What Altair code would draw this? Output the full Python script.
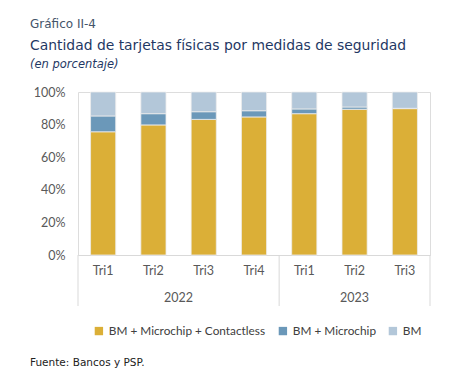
import altair as alt
import pandas as pd

periods = ["Tri1", "Tri2", "Tri3", "Tri4", "Tri1", "Tri2", "Tri3"]
years = ["2022", "2022", "2022", "2022", "2023", "2023", "2023"]
contactless = [75.6, 79.8, 83.2, 84.7, 86.7, 89.4, 89.8]
microchip = [9.7, 6.9, 4.7, 3.8, 2.9, 1.4, 0.2]
bm_only = [14.7, 13.3, 12.1, 11.5, 10.4, 9.2, 10.0]

series_names = ["BM + Microchip + Contactless", "BM + Microchip", "BM"]
series_colors = ["#DBAF37", "#6B98B9", "#B3C7D9"]

keys = [f"{y}-{p}" for y, p in zip(years, periods)]
rows = []
for i, k in enumerate(keys):
    for j, (name, vals) in enumerate(zip(series_names, [contactless, microchip, bm_only])):
        rows.append({"key": k, "serie": name, "valor": vals[i], "ord": j})
df = pd.DataFrame(rows)

W, H = 352, 163

xscale = alt.Scale(domain=keys, paddingInner=0, paddingOuter=0)
xenc = alt.X("key:N", scale=xscale, sort=keys,
             axis=alt.Axis(title=None, labelExpr="split(datum.label, '-')[1]", labelAngle=0,
                           ticks=False, domainColor="#d9d9d9", labelFont="Lato",
                           labelFontSize=12.5, labelColor="#595959", labelPadding=9))

bars = alt.Chart(df).mark_bar(width=alt.RelativeBandSize(0.5), stroke="#ececec", strokeWidth=0.8).encode(
    x=xenc,
    y=alt.Y("valor:Q", stack="zero", scale=alt.Scale(domain=[0, 100], nice=False),
            axis=alt.Axis(title=None, values=[0, 20, 40, 60, 80, 100], labelExpr="datum.value + '%'",
                          grid=False, domain=False, ticks=False, labelFont="Lato",
                          labelFontSize=12.5, labelColor="#595959", labelPadding=13)),
    color=alt.Color("serie:N", scale=alt.Scale(domain=series_names, range=series_colors),
                    legend=alt.Legend(title=None, orient="none", legendX=15, legendY=233,
                                      direction="horizontal", symbolType="square", symbolSize=70,
                                      symbolStrokeWidth=0, labelFont="Lato", labelFontSize=11.8,
                                      labelColor="#404040", columnPadding=11, labelOffset=4,
                                      labelLimit=0)),
    order=alt.Order("ord:Q"),
)

first_keys = [keys[years.index(y)] for y in sorted(set(years))]
sep_df = pd.DataFrame({"key": first_keys})
seps = alt.Chart(sep_df).mark_rule(color="#d9d9d9").encode(
    x=alt.X("key:N", scale=xscale, sort=keys, bandPosition=0),
    y=alt.value(H), y2=alt.value(H + 51))
sep_end = alt.Chart(sep_df.head(1)).mark_rule(color="#d9d9d9").encode(
    x=alt.value(W), y=alt.value(H), y2=alt.value(H + 51))

yl1 = alt.Chart(pd.DataFrame({"key": ["2022-Tri2"], "t": ["2022"]})).mark_text(
    font="Lato", fontSize=12.5, color="#595959", baseline="middle").encode(
    x=alt.X("key:N", scale=xscale, sort=keys, bandPosition=1), y=alt.value(H + 43), text="t:N")
yl2 = alt.Chart(pd.DataFrame({"key": ["2023-Tri2"], "t": ["2023"]})).mark_text(
    font="Lato", fontSize=12.5, color="#595959", baseline="middle").encode(
    x=alt.X("key:N", scale=xscale, sort=keys, bandPosition=0.5), y=alt.value(H + 43), text="t:N")

def label(txt, y, size, color, style="normal", weight="normal", font="DejaVu Sans"):
    return alt.Chart(pd.DataFrame({"t": [txt]})).mark_text(
        align="left", baseline="middle", font=font, fontSize=size, color=color,
        fontStyle=style, fontWeight=weight).encode(x=alt.value(-48), y=alt.value(y), text="t:N")

t0 = label("Gráfico II-4", -68, 12, "#44546A")
t1 = label("Cantidad de tarjetas físicas por medidas de seguridad", -46, 13.9, "#1F3864")
t2 = label("(en porcentaje)", -27, 11.5, "#1F3864", style="italic")
src = label("Fuente: Bancos y PSP.", 271, 10.5, "#222222")

chart = alt.layer(bars, seps, sep_end, yl1, yl2, t0, t1, t2, src).properties(
    width=W, height=H,
    autosize=alt.AutoSizeParams(type="none"),
    padding={"left": 70, "top": 84, "right": 13, "bottom": 129},
).configure_view(stroke=None).configure(background="white")

chart.save("out.html", embed_options={"renderer": "svg", "actions": False})
